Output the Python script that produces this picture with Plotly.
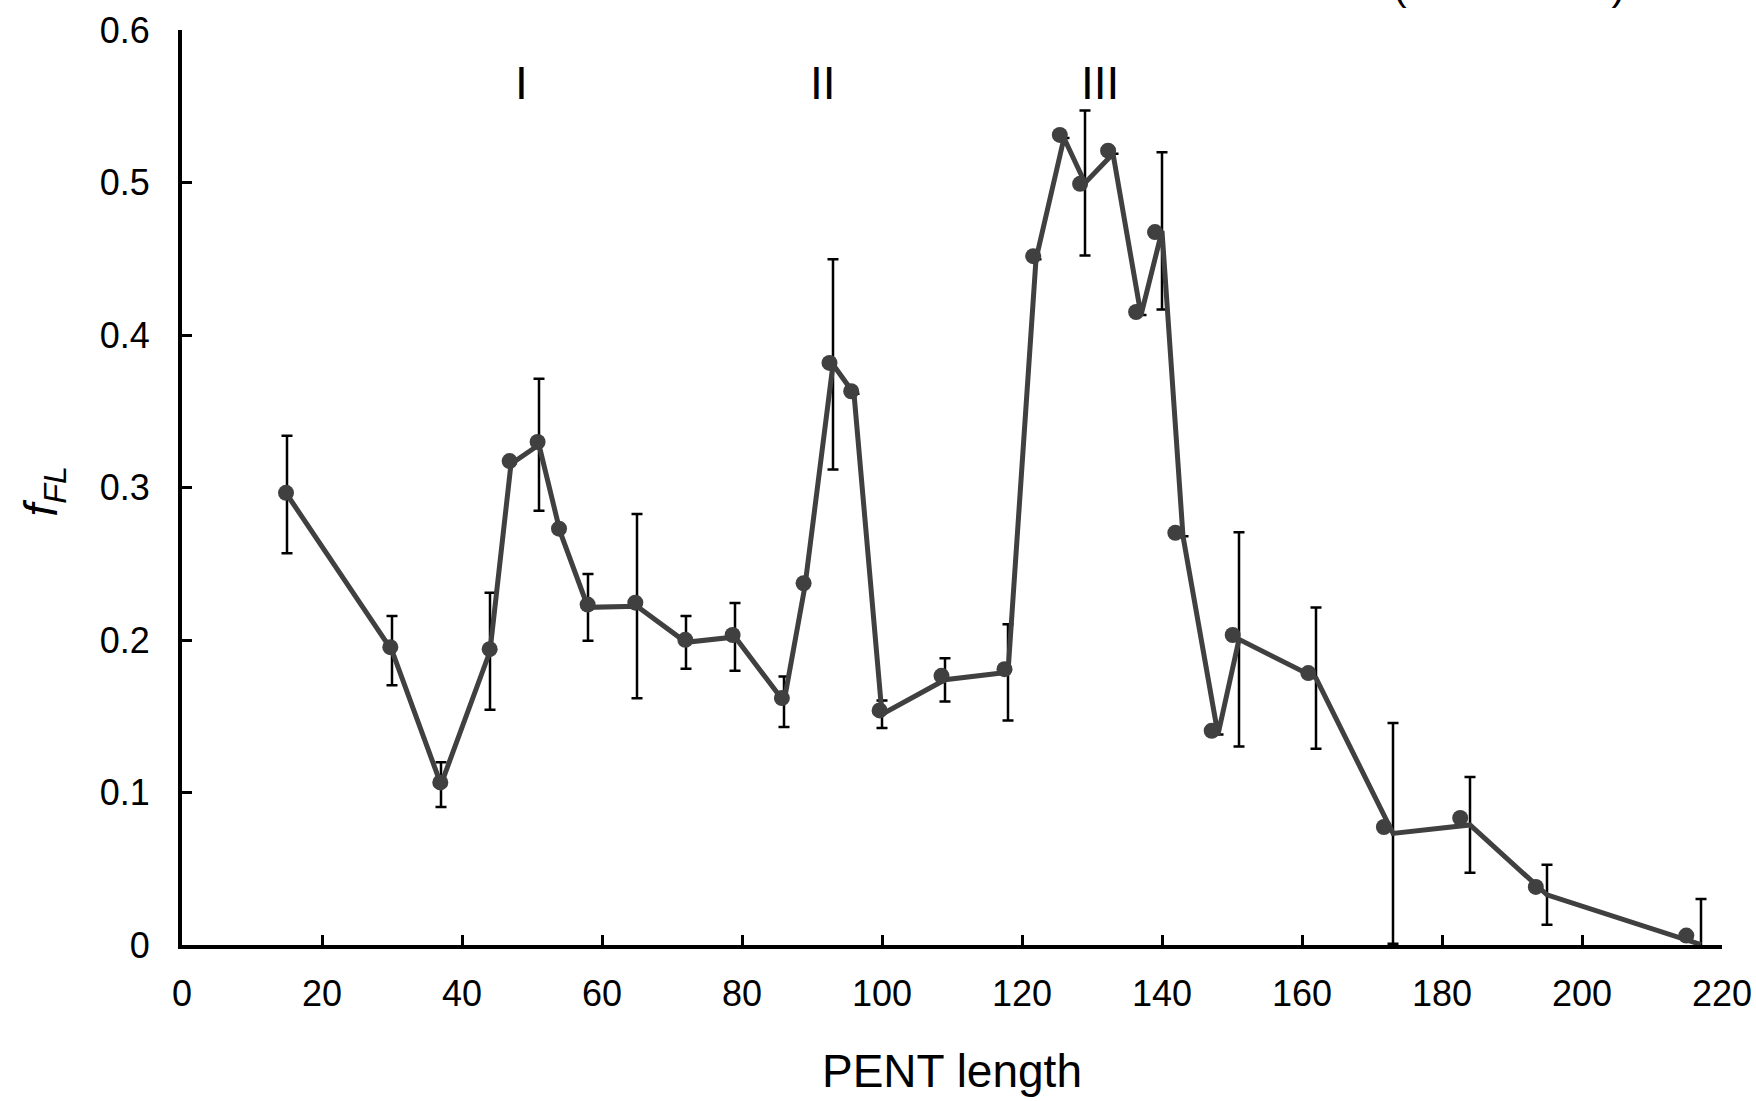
import plotly.graph_objects as go

# PENT length positions of the connected series (with error bars)
x_line = [15, 30, 37, 44, 47, 51, 54, 58, 65, 72, 79, 86, 89, 93, 96, 100,
          109, 118, 122, 126, 129, 133, 137, 140, 143, 148, 151, 162, 173,
          184, 195, 217]
y_line = [0.2954, 0.1931, 0.1052, 0.1926, 0.3155, 0.3280, 0.2712, 0.2214,
          0.2222, 0.1985, 0.2020, 0.1595, 0.2355, 0.3807, 0.3615, 0.1513,
          0.1739, 0.1788, 0.4497, 0.5292, 0.4997, 0.5189, 0.4131, 0.4683,
          0.2680, 0.1380, 0.2004, 0.1750, 0.0732, 0.0787, 0.0329, 0.0003]
err_line = [0.0385, 0.0227, 0.0147, 0.0384, None, 0.0433, None, 0.0219,
            0.0604, 0.0173, 0.0222, 0.0166, None, 0.0689, None, 0.0090,
            0.0142, 0.0316, None, None, 0.0475, None, None, 0.0515,
            None, None, 0.0702, 0.0463, 0.0723, 0.0314, 0.0197, 0.0298]

# marker positions as drawn (slightly offset from the line vertices)
x_marker = [14.86, 29.76, 36.9, 43.95, 46.8, 50.8, 53.86, 57.95, 64.76, 71.9,
            78.66, 85.7, 88.8, 92.5, 95.6, 99.66, 108.5, 117.5, 121.6, 125.4,
            128.3, 132.3, 136.3, 139.0, 141.9, 147.1, 150.1, 160.9, 171.7,
            182.6, 193.4, 214.9]
y_marker = [0.2965, 0.1953, 0.1066, 0.1940, 0.3173, 0.3299, 0.2730, 0.2232,
            0.2245, 0.2001, 0.2033, 0.1619, 0.2372, 0.3817, 0.3631, 0.1538,
            0.1765, 0.1809, 0.4517, 0.5312, 0.4991, 0.5209, 0.4151, 0.4675,
            0.2703, 0.1405, 0.2033, 0.1783, 0.0774, 0.0833, 0.0381, 0.0062]

region_labels = ["I", "II", "III"]
region_x = [48.5, 91.6, 131.2]
region_y = [0.565, 0.565, 0.565]

x_ticks = list(range(0, 221, 20))
y_ticks = [0, 0.1, 0.2, 0.3, 0.4, 0.5, 0.6]
y_tick_text = ["0", "0.1", "0.2", "0.3", "0.4", "0.5", "0.6"]

x_title = "PENT length"
y_title = "<i>f</i><sub><i>FL</i></sub>"

FONT = "Liberation Sans, Arial, sans-serif"
GREY = "#404040"

fig = go.Figure()
fig.add_trace(go.Scatter(
    x=x_line, y=y_line, mode="lines",
    line=dict(color=GREY, width=5),
    error_y=dict(type="data", array=err_line, visible=True,
                 color="black", thickness=2.5, width=5.5),
    showlegend=False, hoverinfo="skip", cliponaxis=False,
))
fig.add_trace(go.Scatter(
    x=x_marker, y=y_marker, mode="markers",
    marker=dict(color=GREY, size=16, line=dict(width=0)),
    showlegend=False, cliponaxis=False,
))

for t, xx, yy in zip(region_labels, region_x, region_y):
    fig.add_annotation(x=xx, y=yy, text=t, showarrow=False,
                       font=dict(family=FONT, size=46, color="black"),
                       xanchor="center", yanchor="middle")

# axis titles
fig.add_annotation(xref="paper", yref="paper", x=0.5, y=0, yshift=-126,
                   text=x_title, showarrow=False, xanchor="center",
                   yanchor="middle", font=dict(family=FONT, size=46, color="black"))
fig.add_annotation(xref="paper", yref="paper", x=0, y=0.5, xshift=-138,
                   yshift=-4, text=y_title, textangle=-90, showarrow=False,
                   xanchor="center", yanchor="middle",
                   font=dict(family=FONT, size=46, color="black"))

# partially visible heading at the very top of the figure (cut off as in source)
fig.add_annotation(xref="paper", yref="paper", x=0.8617, y=1, text="(mean ± SD)",
                   showarrow=False, xanchor="center", yanchor="bottom",
                   yshift=19, font=dict(family=FONT, size=41, color="black"))

fig.update_layout(
    width=1756, height=1101,
    margin=dict(l=182, r=34, t=30, b=156, autoexpand=False),
    paper_bgcolor="white", plot_bgcolor="white",
    font=dict(family=FONT, size=36, color="black"),
    xaxis=dict(range=[0, 220], tickvals=x_ticks, ticks="inside", ticklen=10,
               tickwidth=3, tickcolor="black", showline=True, linewidth=4,
               linecolor="black", showgrid=False, zeroline=False,
               automargin=False, ticklabelstandoff=14,
               tickfont=dict(family=FONT, size=36)),
    yaxis=dict(range=[0, 0.6], tickvals=y_ticks, ticktext=y_tick_text,
               ticks="inside", ticklen=10, tickwidth=3, tickcolor="black",
               showline=True, linewidth=4, linecolor="black",
               showgrid=False, zeroline=False, automargin=False,
               ticklabelstandoff=21,
               tickfont=dict(family=FONT, size=36)),
)

fig.write_html("out.html",
               config={"displayModeBar": False},
               post_script="document.body.style.margin='0';"
                           "document.body.style.overflow='hidden';")
